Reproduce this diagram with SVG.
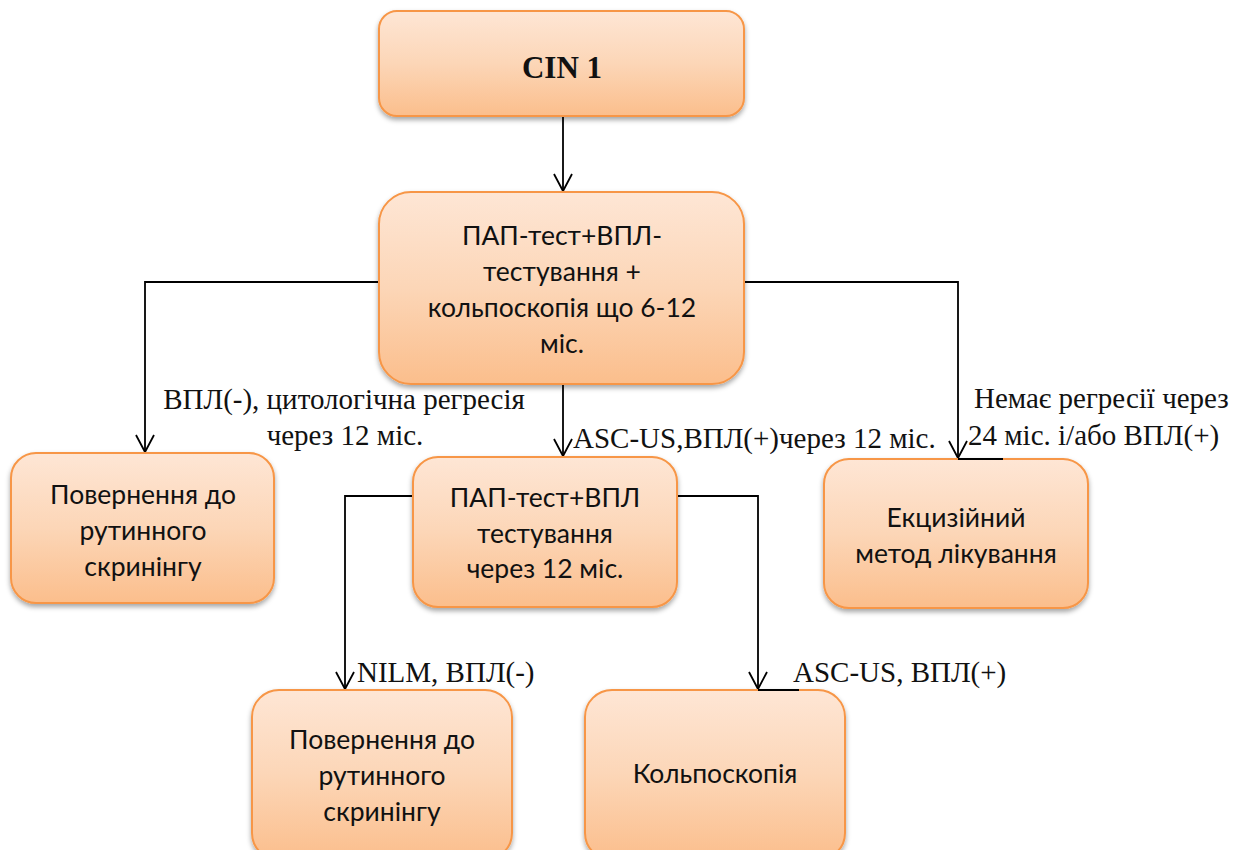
<svg xmlns="http://www.w3.org/2000/svg" width="1247" height="850" viewBox="0 0 1247 850">
  <style>
    .box { fill: url(#peach); stroke: #f79646; stroke-width: 2; filter: url(#shade); }
    .bt { font-family: Lato, "Noto Sans", sans-serif; font-size: 26.5px; fill: #111; text-anchor: middle; }
    .lbl { font-family: "Liberation Serif", "DejaVu Serif", serif; font-size: 29px; fill: #111; }
    .mid { text-anchor: middle; }
    .title { font-family: "Liberation Serif", serif; font-size: 31px; font-weight: bold; fill: #111; text-anchor: middle; }
    .wire { fill: none; stroke: #000; stroke-width: 1.8; }
  </style>
  <defs>
    <linearGradient id="peach" x1="0" y1="0" x2="0" y2="1">
      <stop offset="0" stop-color="#fee6d5"/>
      <stop offset="0.5" stop-color="#fcd6b7"/>
      <stop offset="1" stop-color="#fbbe8c"/>
    </linearGradient>
    <filter id="shade" x="-10%" y="-10%" width="120%" height="130%">
      <feDropShadow dx="0" dy="3" stdDeviation="2.5" flood-color="#000" flood-opacity="0.35"/>
    </filter>
    <marker id="open" markerUnits="userSpaceOnUse" markerWidth="24" markerHeight="24" viewBox="-20 -12 22 24" refX="0" refY="0" orient="auto">
      <path d="M-17,-9 L0,0 L-17,9" fill="none" stroke="#000" stroke-width="1.8"/>
    </marker>
  </defs>

  <!-- connectors -->
  <g id="connectors">
    <path class="wire" d="M563,116 V191" marker-end="url(#open)"/>
    <path class="wire" d="M379,282 H145 V452" marker-end="url(#open)"/>
    <path class="wire" d="M563,384 V456" marker-end="url(#open)"/>
    <path class="wire" d="M744,282 H958 V458" marker-end="url(#open)"/>
    <path class="wire" d="M413,496 H345 V689" marker-end="url(#open)"/>
    <path class="wire" d="M677,496 H758 V689" marker-end="url(#open)"/>
  </g>

  <!-- edge labels -->
  <g id="labels">
    <text class="lbl mid" x="344" y="409">ВПЛ(-), цитологічна регресія</text>
    <text class="lbl mid" x="345" y="445">через 12 міс.</text>
    <text class="lbl" x="573" y="448">ASC-US,ВПЛ(+)через 12 міс.</text>
    <text class="lbl" x="974" y="408">Немає регресії через</text>
    <text class="lbl" x="968" y="445">24 міс. і/або ВПЛ(+)</text>
    <text class="lbl" x="357" y="682">NILM, ВПЛ(-)</text>
    <text class="lbl" x="793" y="682">ASC-US, ВПЛ(+)</text>
  </g>

  <g id="n-cin1">
    <rect class="box" x="379" y="11" width="365" height="105" rx="18"/>
    <text class="title" x="562" y="78">CIN 1</text>
  </g>

  <g id="n-pap-colpo">
    <rect class="box" x="379" y="192" width="365" height="192" rx="32"/>
    <text class="bt" x="562" y="245">ПАП-тест+ВПЛ-</text>
    <text class="bt" x="562" y="281">тестування +</text>
    <text class="bt" x="562" y="317">кольпоскопія що 6-12</text>
    <text class="bt" x="562" y="353">міс.</text>
  </g>

  <g id="n-routine-1">
    <rect class="box" x="11" y="453" width="263" height="150" rx="25"/>
    <text class="bt" x="143" y="504">Повернення до</text>
    <text class="bt" x="143" y="540">рутинного</text>
    <text class="bt" x="143" y="576">скринінгу</text>
  </g>

  <g id="n-pap-12">
    <rect class="box" x="413" y="457" width="264" height="150" rx="25"/>
    <text class="bt" x="545" y="507">ПАП-тест+ВПЛ</text>
    <text class="bt" x="545" y="543">тестування</text>
    <text class="bt" x="545" y="578">через 12 міс.</text>
  </g>

  <g id="n-excision">
    <rect class="box" x="824" y="459" width="264" height="149" rx="25"/>
    <text class="bt" x="956" y="527">Екцизійний</text>
    <text class="bt" x="956" y="563">метод лікування</text>
  </g>

  <g id="n-routine-2">
    <rect class="box" x="252" y="690" width="260" height="170" rx="27"/>
    <text class="bt" x="382" y="749">Повернення до</text>
    <text class="bt" x="382" y="785">рутинного</text>
    <text class="bt" x="382" y="821">скринінгу</text>
  </g>

  <g id="n-colposcopy">
    <rect class="box" x="585" y="690" width="260" height="170" rx="27"/>
    <text class="bt" x="715" y="783">Кольпоскопія</text>
  </g>

  <!-- short connector tails lying over the box tops -->
  <g id="connector-tails">
    <path class="wire" d="M958,459 H1003"/>
    <path class="wire" d="M758,690 H799"/>
  </g>
</svg>
